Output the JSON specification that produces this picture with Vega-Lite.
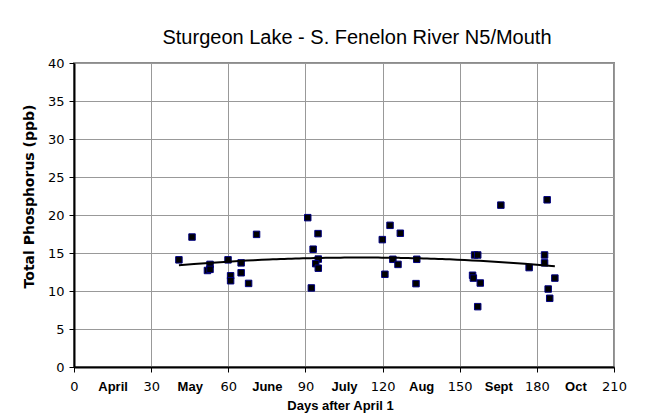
{
  "$schema": "https://vega.github.io/schema/vega-lite/v6.json",
  "width": 540,
  "height": 304,
  "autosize": {"type": "none"},
  "padding": {"left": 74, "top": 63, "right": 42, "bottom": 46},
  "background": "white",
  "config": {
    "font": "Liberation Sans",
    "view": {"stroke": "#8c8c8c", "strokeWidth": 2}
  },
  "title": {
    "text": "Sturgeon Lake - S. Fenelon River N5/Mouth",
    "font": "Liberation Sans",
    "fontSize": 20,
    "fontWeight": "normal",
    "color": "black",
    "anchor": "middle",
    "dx": 13,
    "offset": 9
  },
  "data": {
    "values": [
      {"day": 40.8, "tp": 14.1},
      {"day": 45.9, "tp": 17.1},
      {"day": 51.9, "tp": 12.7},
      {"day": 52.9, "tp": 13.5},
      {"day": 52.9, "tp": 12.85},
      {"day": 59.9, "tp": 14.1},
      {"day": 60.9, "tp": 12.0},
      {"day": 60.9, "tp": 11.35},
      {"day": 65.0, "tp": 13.7},
      {"day": 65.0, "tp": 12.4},
      {"day": 67.9, "tp": 11.0},
      {"day": 71.0, "tp": 17.45},
      {"day": 90.9, "tp": 19.65},
      {"day": 94.9, "tp": 17.55},
      {"day": 93.0, "tp": 15.5},
      {"day": 95.0, "tp": 14.2},
      {"day": 94.0, "tp": 13.6},
      {"day": 95.0, "tp": 13.0},
      {"day": 92.3, "tp": 10.4},
      {"day": 119.9, "tp": 16.76},
      {"day": 122.9, "tp": 18.64},
      {"day": 126.9, "tp": 17.6},
      {"day": 124.0, "tp": 14.17},
      {"day": 126.0, "tp": 13.5},
      {"day": 120.9, "tp": 12.2},
      {"day": 133.3, "tp": 14.17},
      {"day": 133.0, "tp": 10.97},
      {"day": 155.8, "tp": 14.74},
      {"day": 157.0, "tp": 14.74},
      {"day": 155.0, "tp": 12.07},
      {"day": 155.3, "tp": 11.7},
      {"day": 158.0, "tp": 11.05},
      {"day": 157.0, "tp": 7.94},
      {"day": 166.0, "tp": 21.3},
      {"day": 177.0, "tp": 13.08},
      {"day": 183.0, "tp": 14.74},
      {"day": 183.0, "tp": 13.7},
      {"day": 184.0, "tp": 22.0},
      {"day": 187.0, "tp": 11.7},
      {"day": 184.4, "tp": 10.26},
      {"day": 185.0, "tp": 9.04}
    ]
  },
  "encoding": {
    "x": {
      "field": "day",
      "type": "quantitative",
      "scale": {"domain": [0, 210], "nice": false, "zero": false},
      "axis": {
        "title": "Days after April 1",
        "titleFont": "Liberation Sans",
        "titleFontSize": 13,
        "titleFontWeight": "bold",
        "titleColor": "black",
        "titlePadding": 6,
        "titleX": 266,
        "values": [0, 15, 30, 45, 60, 75, 90, 105, 120, 135, 150, 165, 180, 195, 210],
        "labelExpr": "datum.value % 30 == 0 ? datum.label : ['April','May','June','July','Aug','Sept','Oct'][floor(datum.value / 30)]",
        "labelFont": {"condition": {"test": "datum.value % 30 == 0", "value": "DejaVu Sans"}, "value": "Liberation Sans"},
        "labelFontWeight": {"condition": {"test": "datum.value % 30 == 0", "value": "normal"}, "value": "bold"},
        "labelFontSize": 13,
        "labelColor": "black",
        "labelPadding": 8,
        "labelFlush": false,
        "labelOverlap": false,
        "tickSize": 5,
        "tickColor": "black",
        "tickOpacity": {"condition": {"test": "datum.value % 30 == 0", "value": 1}, "value": 0},
        "grid": true,
        "gridColor": "#999999",
        "gridWidth": 1,
        "gridOpacity": {"condition": {"test": "datum.value % 30 == 0", "value": 1}, "value": 0},
        "domainColor": "black",
        "domainWidth": 2
      }
    },
    "y": {
      "field": "tp",
      "type": "quantitative",
      "scale": {"domain": [0, 40], "nice": false},
      "axis": {
        "title": "Total Phosphorus (ppb)",
        "titleFont": "DejaVu Sans",
        "titleFontSize": 14,
        "titleFontWeight": "bold",
        "titleColor": "black",
        "titlePadding": 11,
        "titleY": 133,
        "values": [0, 5, 10, 15, 20, 25, 30, 35, 40],
        "labelOverlap": false,
        "labelFont": "DejaVu Sans",
        "labelFontSize": 13,
        "labelColor": "black",
        "labelPadding": 5,
        "tickSize": 5,
        "tickColor": "black",
        "grid": true,
        "gridColor": "#999999",
        "gridWidth": 1,
        "domainColor": "black",
        "domainWidth": 2
      }
    }
  },
  "layer": [
    {
      "mark": {"type": "square", "size": 42, "filled": true, "color": "black", "stroke": "#000080", "strokeWidth": 1, "opacity": 1}
    },
    {
      "transform": [{"regression": "tp", "on": "day", "method": "poly", "order": 2}],
      "mark": {"type": "line", "color": "black", "strokeWidth": 2}
    }
  ]
}
